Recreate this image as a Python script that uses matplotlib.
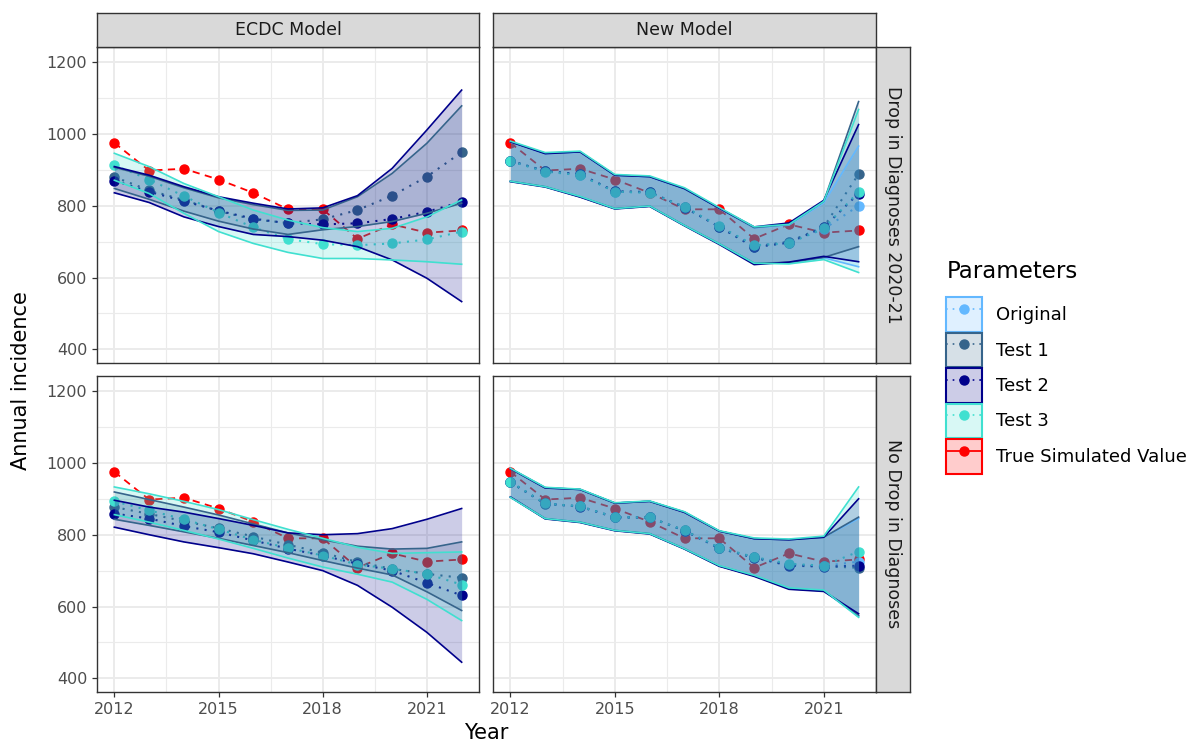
import matplotlib
matplotlib.use("Agg")
import matplotlib.pyplot as plt
from matplotlib.patches import Patch
from matplotlib.lines import Line2D
from matplotlib.colors import to_rgba
import numpy as np

# ---- data ----
years = list(range(2012, 2023))
models = ["ECDC Model", "New Model"]
scenarios = ["Drop in Diagnoses 2020-21", "No Drop in Diagnoses"]
series_names = ["Original", "Test 1", "Test 2", "Test 3"]
series_colors = {"Original": "#63B8FF", "Test 1": "#36648B",
                 "Test 2": "#00008B", "Test 3": "#40E0D0"}
true_color = "red"

true_value = [975, 898, 903, 873, 836, 790, 790, 708, 748, 725, 731]

# ECDC model, drop in diagnoses
ecdc_drop_t1_mid = [880, 843, 816, 785, 762, 752, 762, 788, 828, 881, 949]
ecdc_drop_t1_lo = [848, 818, 785, 757, 735, 720, 733, 742, 756, 779, 807]
ecdc_drop_t1_hi = [907, 882, 850, 822, 803, 787, 788, 825, 890, 974, 1078]
ecdc_drop_t2_mid = [870, 839, 813, 786, 764, 751, 748, 751, 763, 783, 811]
ecdc_drop_t2_lo = [836, 809, 769, 742, 720, 714, 704, 686, 649, 598, 533]
ecdc_drop_t2_hi = [909, 885, 853, 825, 807, 791, 794, 828, 904, 1011, 1122]
ecdc_drop_t3_mid = [913, 873, 827, 781, 740, 707, 693, 690, 695, 706, 728]
ecdc_drop_t3_lo = [871, 834, 779, 728, 695, 670, 653, 653, 649, 644, 637]
ecdc_drop_t3_hi = [946, 909, 862, 825, 788, 760, 739, 728, 737, 769, 816]

# ECDC model, no drop
ecdc_nodrop_t1_mid = [877, 858, 838, 818, 795, 772, 750, 724, 705, 691, 680]
ecdc_nodrop_t1_lo = [843, 826, 808, 790, 770, 750, 728, 707, 688, 641, 589]
ecdc_nodrop_t1_hi = [919, 898, 877, 855, 830, 805, 786, 768, 760, 762, 780]
ecdc_nodrop_t2_mid = [859, 845, 824, 807, 784, 761, 742, 719, 700, 666, 631]
ecdc_nodrop_t2_lo = [821, 800, 780, 764, 747, 724, 700, 659, 598, 528, 445]
ecdc_nodrop_t2_hi = [896, 877, 863, 845, 826, 805, 800, 803, 817, 843, 873]
ecdc_nodrop_t3_mid = [893, 868, 843, 815, 786, 763, 742, 717, 705, 691, 661]
ecdc_nodrop_t3_lo = [856, 835, 812, 788, 762, 735, 710, 690, 668, 620, 561]
ecdc_nodrop_t3_hi = [933, 914, 893, 870, 842, 815, 790, 765, 748, 750, 752]

# New model, drop in diagnoses
new_drop_orig_mid = [924, 896, 886, 839, 837, 796, 742, 688, 698, 735, 800]
new_drop_orig_lo = [868, 853, 825, 792, 799, 745, 694, 640, 641, 655, 630]
new_drop_orig_hi = [977, 945, 949, 884, 880, 846, 792, 738, 746, 808, 966]
new_drop_t1_mid = [925, 897, 887, 840, 838, 796, 742, 686, 700, 741, 888]
new_drop_t1_lo = [868, 853, 825, 792, 799, 745, 694, 640, 642, 656, 686]
new_drop_t1_hi = [978, 946, 950, 885, 881, 847, 793, 739, 748, 812, 1090]
new_drop_t2_mid = [925, 896, 888, 840, 838, 795, 741, 684, 697, 740, 834]
new_drop_t2_lo = [867, 852, 824, 791, 798, 744, 692, 636, 643, 659, 644]
new_drop_t2_hi = [978, 945, 950, 885, 881, 848, 793, 741, 752, 815, 1026]
new_drop_t3_mid = [924, 895, 885, 839, 836, 797, 743, 690, 695, 737, 839]
new_drop_t3_lo = [868, 853, 826, 792, 799, 745, 694, 640, 638, 650, 614]
new_drop_t3_hi = [980, 948, 952, 887, 883, 850, 795, 741, 748, 812, 1068]

# New model, no drop
new_nodrop_orig_mid = [946, 886, 879, 849, 848, 811, 763, 737, 717, 713, 725]
new_nodrop_orig_lo = [905, 845, 835, 812, 803, 761, 713, 686, 650, 644, 572]
new_nodrop_orig_hi = [984, 931, 926, 888, 893, 863, 810, 789, 786, 793, 845]
new_nodrop_t1_mid = [946, 886, 879, 849, 848, 812, 763, 737, 716, 712, 708]
new_nodrop_t1_lo = [905, 845, 835, 812, 803, 761, 713, 686, 650, 644, 575]
new_nodrop_t1_hi = [984, 931, 926, 888, 893, 863, 810, 789, 786, 793, 849]
new_nodrop_t2_mid = [946, 887, 878, 848, 848, 811, 762, 736, 714, 711, 714]
new_nodrop_t2_lo = [905, 844, 834, 811, 802, 760, 712, 684, 648, 642, 580]
new_nodrop_t2_hi = [984, 930, 926, 888, 893, 862, 810, 789, 786, 793, 900]
new_nodrop_t3_mid = [947, 887, 879, 849, 848, 812, 764, 738, 719, 714, 753]
new_nodrop_t3_lo = [904, 845, 835, 812, 803, 761, 714, 687, 652, 646, 570]
new_nodrop_t3_hi = [985, 932, 927, 889, 894, 864, 811, 791, 788, 796, 933]

panels = {
    ("ECDC Model", scenarios[0]): {
        "Test 1": (ecdc_drop_t1_mid, ecdc_drop_t1_lo, ecdc_drop_t1_hi),
        "Test 2": (ecdc_drop_t2_mid, ecdc_drop_t2_lo, ecdc_drop_t2_hi),
        "Test 3": (ecdc_drop_t3_mid, ecdc_drop_t3_lo, ecdc_drop_t3_hi),
    },
    ("ECDC Model", scenarios[1]): {
        "Test 1": (ecdc_nodrop_t1_mid, ecdc_nodrop_t1_lo, ecdc_nodrop_t1_hi),
        "Test 2": (ecdc_nodrop_t2_mid, ecdc_nodrop_t2_lo, ecdc_nodrop_t2_hi),
        "Test 3": (ecdc_nodrop_t3_mid, ecdc_nodrop_t3_lo, ecdc_nodrop_t3_hi),
    },
    ("New Model", scenarios[0]): {
        "Original": (new_drop_orig_mid, new_drop_orig_lo, new_drop_orig_hi),
        "Test 1": (new_drop_t1_mid, new_drop_t1_lo, new_drop_t1_hi),
        "Test 2": (new_drop_t2_mid, new_drop_t2_lo, new_drop_t2_hi),
        "Test 3": (new_drop_t3_mid, new_drop_t3_lo, new_drop_t3_hi),
    },
    ("New Model", scenarios[1]): {
        "Original": (new_nodrop_orig_mid, new_nodrop_orig_lo, new_nodrop_orig_hi),
        "Test 1": (new_nodrop_t1_mid, new_nodrop_t1_lo, new_nodrop_t1_hi),
        "Test 2": (new_nodrop_t2_mid, new_nodrop_t2_lo, new_nodrop_t2_hi),
        "Test 3": (new_nodrop_t3_mid, new_nodrop_t3_lo, new_nodrop_t3_hi),
    },
}

# ---- layout (pixels) ----
W, H = 1193, 743
fig = plt.figure(figsize=(W / 100, H / 100), dpi=100)
plt.rcParams['font.family'] = ['DejaVu Sans']

col_x = [(97, 479), (493, 876)]
row_y = [(47, 363), (376, 692)]
border = "#333333"
fill_alpha = 0.2


def px_axes(x0, x1, y0, y1):
    return fig.add_axes([x0 / W, 1 - y1 / H, (x1 - x0) / W, (y1 - y0) / H])


def strip(x0, x1, y0, y1, text, rotation=0):
    sax = px_axes(x0, x1, y0, y1)
    sax.set_facecolor("#D9D9D9")
    sax.set_xticks([])
    sax.set_yticks([])
    for s in sax.spines.values():
        s.set_color(border)
        s.set_linewidth(1.0)
    sax.text(0.5, 0.5, text, rotation=rotation, ha="center", va="center",
             fontsize=12.5, color="#1A1A1A", transform=sax.transAxes)


for r, scen in enumerate(scenarios):
    for c, model in enumerate(models):
        x0, x1 = col_x[c]
        y0, y1 = row_y[r]
        ax = px_axes(x0, x1, y0, y1)
        ax.set_xlim(2011.5, 2022.5)
        ax.set_ylim(362, 1242)
        ax.set_xticks([2012, 2015, 2018, 2021])
        ax.set_xticks([2013.5, 2016.5, 2019.5], minor=True)
        ax.set_yticks([400, 600, 800, 1000, 1200])
        ax.set_yticks([500, 700, 900, 1100], minor=True)
        ax.grid(which="major", color="#EBEBEB", lw=1.4)
        ax.grid(which="minor", color="#EBEBEB", lw=0.8)
        ax.set_axisbelow(True)
        for s in ax.spines.values():
            s.set_color(border)
            s.set_linewidth(1.0)
        ax.tick_params(which="major", length=3.5, width=0.9, color=border,
                       labelsize=11.5, labelcolor="#4D4D4D")
        ax.tick_params(which="minor", length=0)
        if c == 1:
            ax.tick_params(axis="y", left=False, labelleft=False)
        if r == 0:
            ax.tick_params(axis="x", bottom=False, labelbottom=False)

        # true simulated value (drawn underneath)
        ax.plot(years, true_value, color=true_color, ls=(0, (4, 3)), lw=1.3,
                marker="o", ms=6.5, zorder=2)

        data = panels[(model, scen)]
        for name in series_names:
            if name not in data:
                continue
            mid, lo, hi = data[name]
            col = series_colors[name]
            ax.plot(years, mid, color=col, ls=(0, (1, 3)), lw=1.5,
                    marker="o", ms=6.5, zorder=3)
        for name in series_names:
            if name not in data:
                continue
            mid, lo, hi = data[name]
            col = series_colors[name]
            ax.fill_between(years, lo, hi, color=col, alpha=fill_alpha, lw=0, zorder=4)
            ax.plot(years, lo, color=col, lw=1.2, zorder=5)
            ax.plot(years, hi, color=col, lw=1.2, zorder=5)

        if r == 0:
            strip(x0, x1, 13, 47, model)
        if c == 1:
            strip(876, 910, y0, y1, scen, rotation=-90)

fig.text((97 + 876) / 2 / W, 1 - 733 / H, "Year", ha="center", va="center",
         fontsize=15, color="black")
fig.text(21 / W, 1 - 381 / H, "Annual incidence", ha="center", va="center",
         rotation=90, fontsize=15, color="black")

# legend
handles = []
labels = []
for name in series_names:
    col = series_colors[name]
    handles.append((Patch(facecolor=to_rgba(col, fill_alpha), edgecolor=col, lw=1.5),
                    Line2D([], [], color=col, ls=(0, (1, 3)), lw=1.2, marker="o", ms=6.5)))
    labels.append(name)
handles.append((Patch(facecolor=to_rgba(true_color, fill_alpha), edgecolor=true_color, lw=1.5),
                Line2D([], [], color=true_color, ls="-", lw=1.3, marker="o", ms=6.5)))
labels.append("True Simulated Value")

fig.text(947 / W, 1 - 272 / H, "Parameters", ha="left", va="center",
         fontsize=16.5, color="black")
leg = fig.legend(handles, labels, loc="upper left",
                 bbox_to_anchor=(932 / W, 1 - 283 / H), frameon=False,
                 fontsize=13.0, handlelength=1.97, handleheight=2.55,
                 labelspacing=0.06, handletextpad=0.8, borderpad=0.3)

fig.savefig("out.png", dpi=100)
